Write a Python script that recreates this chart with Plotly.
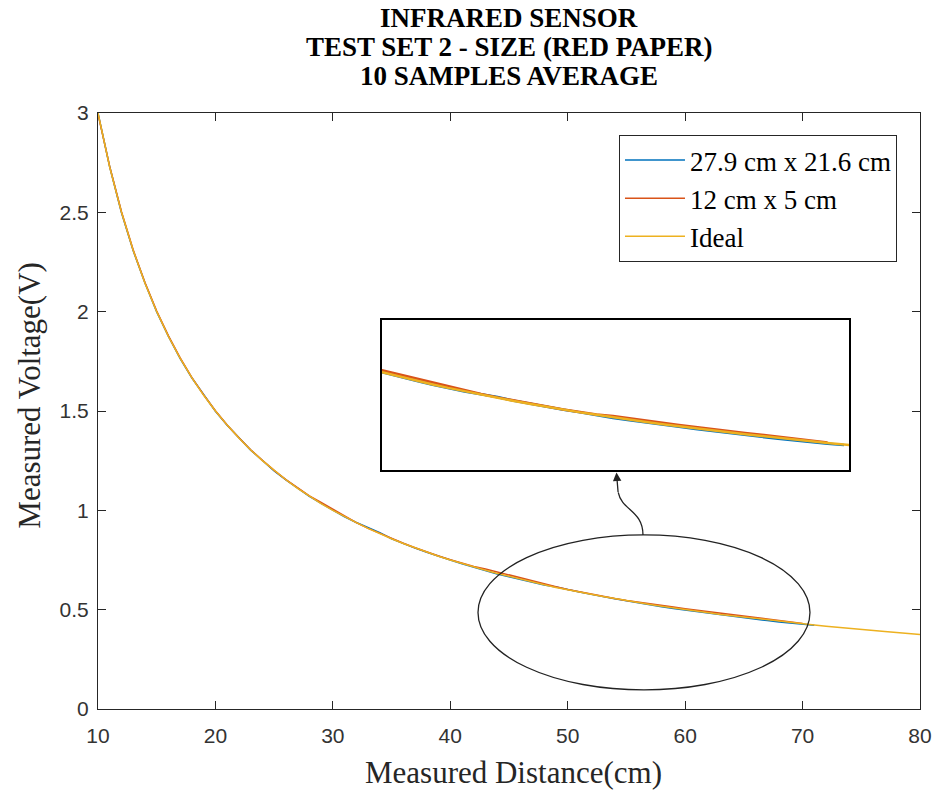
import plotly.graph_objects as go

# ---------------- data ----------------
ideal_x = list(range(10, 81))
ideal_v = [3.000, 2.727, 2.500, 2.308, 2.143, 2.000, 1.875, 1.765, 1.667, 1.579,
           1.500, 1.429, 1.364, 1.304, 1.250, 1.200, 1.154, 1.111, 1.071, 1.034,
           1.000, 0.968, 0.938, 0.909, 0.882, 0.857, 0.833, 0.811, 0.789, 0.769,
           0.750, 0.732, 0.714, 0.698, 0.682, 0.667, 0.652, 0.638, 0.625, 0.612,
           0.600, 0.588, 0.577, 0.566, 0.556, 0.545, 0.536, 0.526, 0.517, 0.508,
           0.500, 0.492, 0.484, 0.476, 0.469, 0.462, 0.455, 0.448, 0.441, 0.435,
           0.429, 0.423, 0.417, 0.411, 0.405, 0.400, 0.395, 0.390, 0.385, 0.380,
           0.375]

large_x = list(range(10, 72))
large_v = [3.000, 2.728, 2.498, 2.306, 2.144, 1.998, 1.876, 1.763, 1.666, 1.580,
           1.499, 1.428, 1.365, 1.303, 1.251, 1.199, 1.153, 1.112, 1.070, 1.035,
           0.999, 0.967, 0.939, 0.915, 0.888, 0.857, 0.832, 0.810, 0.789, 0.768,
           0.750, 0.731, 0.713, 0.697, 0.680, 0.666, 0.651, 0.637, 0.624, 0.614,
           0.603, 0.589, 0.577, 0.565, 0.555, 0.545, 0.534, 0.524, 0.515, 0.506,
           0.498, 0.490, 0.482, 0.474, 0.467, 0.460, 0.452, 0.445, 0.438, 0.432,
           0.426, 0.421]

small_x = list(range(10, 71))
small_v = [2.995, 2.730, 2.503, 2.310, 2.147, 2.003, 1.878, 1.767, 1.668, 1.581,
           1.501, 1.430, 1.365, 1.305, 1.252, 1.201, 1.155, 1.112, 1.073, 1.040,
           1.006, 0.970, 0.938, 0.909, 0.883, 0.858, 0.834, 0.812, 0.790, 0.770,
           0.752, 0.734, 0.717, 0.705, 0.690, 0.674, 0.659, 0.643, 0.629, 0.615,
           0.602, 0.590, 0.578, 0.567, 0.556, 0.546, 0.537, 0.531, 0.522, 0.513,
           0.505, 0.497, 0.489, 0.481, 0.474, 0.467, 0.460, 0.453, 0.446, 0.439,
           0.431]

names = ["27.9 cm x 21.6 cm", "12 cm x 5 cm", "Ideal"]
colors = ["#0072BD", "#D95319", "#EDB120"]
title_lines = ["INFRARED SENSOR", "TEST SET 2 - SIZE (RED PAPER)", "10 SAMPLES AVERAGE"]
x_title = "Measured Distance(cm)"
y_title = "Measured Voltage(V)"
x_ticks = [10, 20, 30, 40, 50, 60, 70, 80]
y_ticks = [0, 0.5, 1, 1.5, 2, 2.5, 3]
y_tick_text = ["0", "0.5", "1", "1.5", "2", "2.5", "3"]

series = [(large_x, large_v), (small_x, small_v), (ideal_x, ideal_v)]

fig = go.Figure()
for (xs, ys), n, c in zip(series, names, colors):
    fig.add_trace(go.Scatter(x=xs, y=ys, mode="lines", name=n,
                             line=dict(color=c, width=1.5)))
# inset (zoomed view)
for (xs, ys), n, c in zip(series, names, colors):
    fig.add_trace(go.Scatter(x=xs, y=ys, mode="lines", name=n, showlegend=False,
                             xaxis="x2", yaxis="y2",
                             line=dict(color=c, width=2.5)))

serif = "Liberation Serif, Times New Roman, serif"
sans = "Liberation Sans, Arial, sans-serif"
axcol = "#262626"

fig.update_layout(
    width=935, height=790,
    margin=dict(l=98, r=15, t=113, b=81),
    paper_bgcolor="white", plot_bgcolor="white",
    xaxis=dict(range=[10, 80], tickvals=x_ticks, ticks="inside", ticklen=8,
               tickcolor=axcol, showline=True, linecolor=axcol, linewidth=1,
               mirror="ticks", showgrid=False, zeroline=False, automargin=False,
               ticklabelstandoff=8,
               tickfont=dict(family=sans, size=21, color="#333333")),
    yaxis=dict(range=[0, 3], tickvals=y_ticks, ticktext=y_tick_text, ticks="inside",
               ticklen=8, tickcolor=axcol, showline=True, linecolor=axcol, linewidth=1,
               mirror="ticks", showgrid=False, zeroline=False, automargin=False,
               ticklabelstandoff=4,
               tickfont=dict(family=sans, size=21, color="#333333")),
    xaxis2=dict(domain=[0.3455, 0.9136], anchor="y2", range=[43, 71.3],
                showticklabels=False, ticks="", showgrid=False, zeroline=False,
                showline=True, linecolor="black", linewidth=1.5, mirror=True),
    yaxis2=dict(domain=[0.401, 0.6527], anchor="x2", range=[0.326, 0.896],
                showticklabels=False, ticks="", showgrid=False, zeroline=False,
                showline=True, linecolor="black", linewidth=1.5, mirror=True),
    legend=dict(x=0.972, y=0.963, xanchor="right", yanchor="top",
                bgcolor="white", bordercolor="#262626", borderwidth=1,
                font=dict(family=serif, size=27, color="black"),
                tracegroupgap=0, itemwidth=60),
    showlegend=True,
)

# title lines
for txt, py in zip(title_lines, [1.159, 1.111, 1.062]):
    fig.add_annotation(text=f"<b>{txt}</b>", x=0.5, y=py, xref="paper", yref="paper",
                       xanchor="center", yanchor="middle", showarrow=False,
                       font=dict(family=serif, size=27, color="black"))
# axis titles
fig.add_annotation(text=x_title, x=0.506, y=-0.106, xref="paper", yref="paper",
                   xanchor="center", yanchor="middle", showarrow=False,
                   font=dict(family=serif, size=31, color="#262626"))
fig.add_annotation(text=y_title, x=-0.083, y=0.527, xref="paper", yref="paper",
                   xanchor="center", yanchor="middle", showarrow=False, textangle=-90,
                   font=dict(family=serif, size=31, color="#262626"))

# ellipse around zoomed region
fig.add_shape(type="circle", xref="x", yref="y", x0=42.36, x1=70.63, y0=0.096, y1=0.876,
              line=dict(color="#222222", width=1.3))
# curved arrow from ellipse to inset
fig.add_shape(type="path", xref="x", yref="y",
              path="M 56.41,0.876 C 56.41,1.0 54.6,1.0 54.3,1.09",
              line=dict(color="#222222", width=1.3))
fig.add_annotation(x=54.15, y=1.19, ax=54.3, ay=1.085, xref="x", yref="y",
                   axref="x", ayref="y", text="", showarrow=True,
                   arrowhead=2, arrowsize=1.3, arrowwidth=1.3, arrowcolor="#222222")

fig.write_html("out.html")
